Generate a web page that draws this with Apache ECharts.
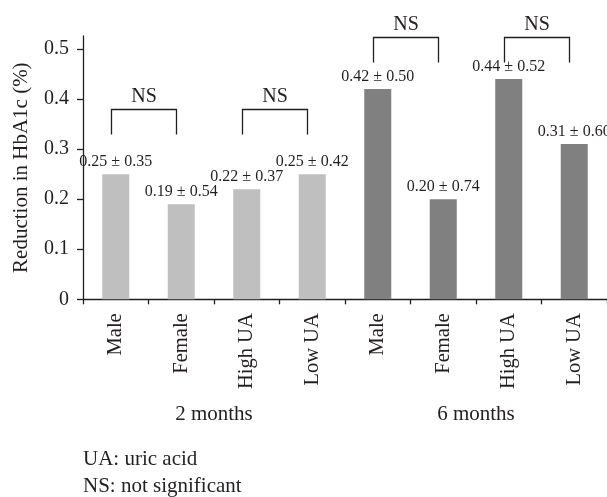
<!DOCTYPE html>
<html>
<head>
<meta charset="utf-8">
<script src="https://cdn.jsdelivr.net/npm/echarts@6/dist/echarts.min.js"></script>
<style>html,body{margin:0;padding:0;background:#fff}#c{width:607px;height:497px}</style>
</head>
<body>
<div id="c"></div>
<script>
// ---- data ----
const categories = ['Male', 'Female', 'High UA', 'Low UA', 'Male', 'Female', 'High UA', 'Low UA'];
const periodOf = [0, 0, 0, 0, 1, 1, 1, 1];
const periods = ['2 months', '6 months'];
const means = [0.25, 0.19, 0.22, 0.25, 0.42, 0.20, 0.44, 0.31];
const sds = ['0.35', '0.54', '0.37', '0.42', '0.50', '0.74', '0.52', '0.60'];
const yTicks = [0, 0.1, 0.2, 0.3, 0.4, 0.5];
const yMax = 0.526;
// brackets: [fromCategory, toCategory, topValue, legBottomValue, text]
const brackets = [
  [0, 1, 0.381, 0.329, 'NS'],
  [2, 3, 0.381, 0.329, 'NS'],
  [4, 5, 0.525, 0.473, 'NS'],
  [6, 7, 0.525, 0.473, 'NS']
];
const notes = ['UA: uric acid', 'NS: not significant'];

const FONT = 'Liberation Serif';
const INK = '#231f20';
const colors = ['#bfbfbf', '#808080'];

const chart = echarts.init(document.getElementById('c'), null, {renderer: 'canvas'});
chart.setOption({
  animation: false,
  backgroundColor: '#fff',
  grid: {left: 83, right: 0, top: 36, bottom: 197.7, containLabel: false},
  xAxis: [{
    type: 'category',
    data: categories,
    boundaryGap: true,
    axisLine: {lineStyle: {color: INK, width: 1.3}},
    axisTick: {show: true, length: 5, lineStyle: {color: INK, width: 1.3}},
    axisLabel: {rotate: 90, margin: 14, fontFamily: FONT, fontSize: 20.5, color: INK, interval: 0},
    splitLine: {show: false}
  }, {
    type: 'category',
    data: periods,
    position: 'bottom',
    axisLine: {show: false},
    axisTick: {show: false},
    axisLabel: {margin: 105, fontFamily: FONT, fontSize: 21, color: INK, interval: 0},
    splitLine: {show: false}
  }],
  yAxis: {
    type: 'value',
    min: 0,
    max: yMax,
    name: 'Reduction in HbA1c (%)',
    nameLocation: 'middle',
    nameGap: 51,
    nameTextStyle: {fontFamily: FONT, fontSize: 21, color: INK},
    axisLine: {show: true, lineStyle: {color: INK, width: 1.3}},
    axisTick: {show: true, length: 6, customValues: yTicks, lineStyle: {color: INK, width: 1.3}},
    axisLabel: {margin: 14, fontFamily: FONT, fontSize: 20, color: INK, customValues: yTicks,
      formatter: v => (v === 0 ? '0' : v.toFixed(1))},
    splitLine: {show: false}
  },
  series: [{
    type: 'bar',
    data: means,
    barWidth: 27,
    itemStyle: {color: p => colors[periodOf[p.dataIndex]]},
    label: {
      show: true, position: 'top', distance: 4,
      fontFamily: FONT, fontSize: 16, color: INK,
      formatter: p => p.value.toFixed(2) + ' \u00b1 ' + sds[p.dataIndex]
    }
  }, {
    type: 'custom',
    clip: false,
    silent: true,
    z: 5,
    data: brackets,
    renderItem: function (params, api) {
      const d = brackets[params.dataIndex];
      const a = api.coord([d[0], d[2]]);
      const b = api.coord([d[1], d[2]]);
      const aLow = api.coord([d[0], d[3]]);
      const off = -5;
      const x0 = Math.round(a[0] + off) + 0.5, x1 = Math.round(b[0] + off) + 0.5;
      const yT = Math.round(a[1]) + 0.5, yB = aLow[1];
      return {
        type: 'group',
        children: [{
          type: 'polyline',
          shape: {points: [[x0, yB], [x0, yT], [x1, yT], [x1, yB]]},
          style: {stroke: INK, lineWidth: 1.3, fill: null}
        }, {
          type: 'text',
          style: {
            text: d[4], x: (x0 + x1) / 2, y: yT - 13,
            align: 'center', verticalAlign: 'middle',
            font: '20px "' + FONT + '"', fill: INK
          }
        }]
      };
    }
  }],
  graphic: notes.map((t, i) => ({
    type: 'text', left: 83, top: 449 + i * 27,
    style: {text: t, font: '21px "' + FONT + '"', fill: INK}
  }))
});
</script>
</body>
</html>
